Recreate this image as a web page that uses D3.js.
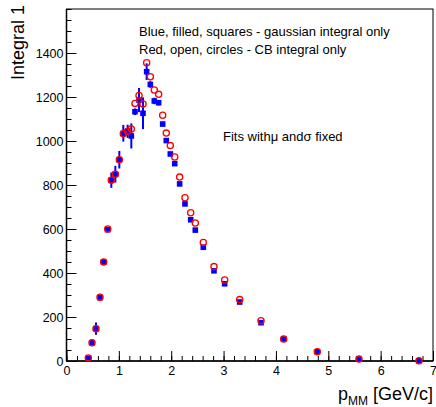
<!DOCTYPE html>
<html><head><meta charset="utf-8">
<script src="https://cdn.jsdelivr.net/npm/d3@7/dist/d3.min.js"></script>
<style>body{margin:0;background:#fff}svg{display:block}text{font-family:"Liberation Sans",Arial,sans-serif;fill:#000}</style>
</head><body><svg id="c" width="436" height="407"></svg>
<script>
const pMM = [0.417,0.487,0.563,0.64,0.71,0.787,0.856,0.933,1.009,1.085,1.168,1.238,1.308,1.385,1.461,1.531,1.601,1.677,1.760,1.837,1.906,1.983,2.067,2.161,2.263,2.372,2.460,2.613,2.817,3.021,3.308,3.715,4.148,4.79,5.586,6.732];
const gaussIntegral = [12,83,147,288,450,597,822,849,915,1035,1044,1023,1133,1186,1126,1315,1257,1182,1174,1077,1002,941,897,805,714,642,595,517,410,351,268,174,100,42,9,1];
const gaussError = [4,6,28,8,8,8,35,38,40,38,30,57,15,55,72,38,15,15,12,10,10,9,9,8,8,8,8,7,6,6,5,5,4,3,2,1];
const cbIntegral = [14,83,147,290,450,600,822,849,915,1033,1044,1055,1171,1207,1168,1356,1292,1232,1212,1117,1036,979,927,836,742,674,627,539,429,368,279,183,100,42,9,1];
const xTicks = [0,1,2,3,4,5,6,7];
const yTicks = [0,200,400,600,800,1000,1200,1400];

const svg = d3.select("#c");
const L=66.5, R=433, T=9, B=361;
const x = d3.scaleLinear().domain([0,7]).range([L,R]);
const y = d3.scaleLinear().domain([0,1600]).range([B,T]);

// frame
svg.append("rect").attr("x",L).attr("y",T).attr("width",R-L).attr("height",B-T)
  .attr("fill","none").attr("stroke","#000").attr("stroke-width",1);

// x axis
const xa = svg.append("g").attr("transform",`translate(0,${B})`);
xa.call(d3.axisBottom(x).tickValues(d3.range(0,7.001,0.2)).tickSize(-5).tickFormat(""))
  .call(g=>g.select(".domain").remove());
xa.append("g").call(d3.axisBottom(x).tickValues(xTicks).tickSize(-10).tickFormat(d3.format("d")).tickPadding(-3))
  .call(g=>g.select(".domain").remove());
xa.selectAll("line").attr("stroke","#000").attr("stroke-width",1);
xa.selectAll("text").attr("font-size","12.5px").attr("font-family","Liberation Sans, Arial, sans-serif").attr("fill","#000").attr("dy","0.95em").attr("y",2);
svg.append("line").attr("x1",L).attr("x2",R).attr("y1",B).attr("y2",B).attr("stroke","#000").attr("stroke-width",1.5);

// y axis
const ya = svg.append("g").attr("transform",`translate(${L},0)`);
ya.call(d3.axisLeft(y).tickValues(d3.range(0,1601,50)).tickSize(-5).tickFormat(""))
  .call(g=>g.select(".domain").remove());
ya.append("g").call(d3.axisLeft(y).tickValues(yTicks).tickSize(-10).tickFormat(d3.format("d")).tickPadding(3))
  .call(g=>g.select(".domain").remove());
ya.selectAll("line").attr("stroke","#000").attr("stroke-width",1);
ya.selectAll("text").attr("font-size","12.5px").attr("font-family","Liberation Sans, Arial, sans-serif").attr("fill","#000").attr("x",-3);
svg.append("line").attr("x1",L).attr("x2",L).attr("y1",T).attr("y2",B).attr("stroke","#000").attr("stroke-width",1.5);

// titles
svg.append("text").attr("transform","translate(24,5) rotate(-90)").attr("text-anchor","end")
  .attr("font-size","18px").text("Integral 1");
const xt = svg.append("text").attr("x",R).attr("y",400).attr("text-anchor","end").attr("font-size","18px");
xt.append("tspan").text("p");
xt.append("tspan").attr("font-size","12px").attr("dy",5).text("MM");
xt.append("tspan").attr("dy",-5).text(" [GeV/c]");

// legend texts
svg.append("text").attr("x",139).attr("y",35.5).attr("font-size","13px").text("Blue, filled, squares - gaussian integral only");
svg.append("text").attr("x",139).attr("y",53.5).attr("font-size","13px").text("Red, open, circles - CB integral only");
const ft = svg.append("text").attr("x",223).attr("y",140.5).attr("font-size","13px");
ft.append("tspan").text("Fits with");
ft.append("tspan").text("μ");
ft.append("tspan").text(" and");
ft.append("tspan").text("σ");
ft.append("tspan").text(" fixed");

// data
const pts = pMM.map((p,i)=>({p, g:gaussIntegral[i], e:gaussError[i], c:cbIntegral[i]}));
const plot = svg.append("g");
plot.selectAll(".eb").data(pts).enter().append("line")
  .attr("x1",d=>x(d.p)).attr("x2",d=>x(d.p))
  .attr("y1",d=>y(d.g+d.e)).attr("y2",d=>y(Math.max(0,d.g-d.e)))
  .attr("stroke","#0000ff").attr("stroke-width",2);
const s=5.6;
plot.selectAll(".sq").data(pts).enter().append("rect")
  .attr("x",d=>x(d.p)-s/2).attr("y",d=>y(d.g)-s/2).attr("width",s).attr("height",s)
  .attr("fill","#0000ff");
plot.selectAll(".ci").data(pts).enter().append("circle")
  .attr("cx",d=>x(d.p)).attr("cy",d=>y(d.c)).attr("r",3.1)
  .attr("fill","none").attr("stroke","#ff0000").attr("stroke-width",1.3);
</script></body></html>
